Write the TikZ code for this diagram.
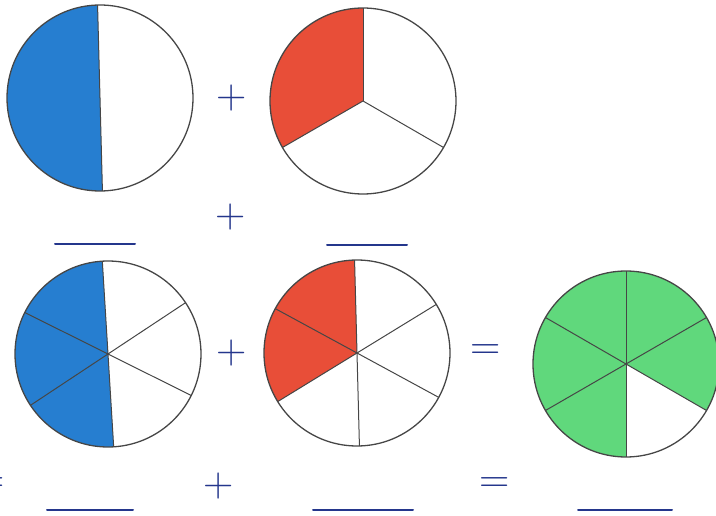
\documentclass[tikz,border=0pt]{standalone}
\definecolor{cblue}{RGB}{38,126,208}
\definecolor{cred}{RGB}{232,78,56}
\definecolor{cgreen}{RGB}{96,216,124}
\definecolor{ink}{RGB}{36,54,140}
\definecolor{pencil}{RGB}{70,70,70}
\begin{document}
\begin{tikzpicture}[x=1pt,y=1pt,
  rim/.style={draw=pencil,line width=1.3pt},
  spoke/.style={draw=pencil,line width=1pt},
  sign/.style={text=ink,font=\fontsize{42}{42}\selectfont,inner sep=0pt},
  blank/.style={draw=ink,line width=2pt,line cap=round}]
\useasboundingbox (0,0) rectangle (716,515);
\clip (0,0) rectangle (716,515);
% circle 1: halves
\coordinate (c1) at (100,417);
\fill[cblue] (c1) -- ++(91.5:93) arc[start angle=91.5,end angle=271.5,radius=93] -- cycle;
\draw[rim] (c1) circle[radius=93];
\foreach \a in {91.5,271.5} \draw[spoke] (c1) -- ++(\a:93);
% circle 2: thirds
\coordinate (c2) at (363,414);
\fill[cred] (c2) -- ++(90:93) arc[start angle=90,end angle=210,radius=93] -- cycle;
\draw[rim] (c2) circle[radius=93];
\foreach \a in {90,210,330} \draw[spoke] (c2) -- ++(\a:93);
% circle 3: sixths
\coordinate (c3) at (108,161);
\fill[cblue] (c3) -- ++(93.5:93) arc[start angle=93.5,end angle=273.5,radius=93] -- cycle;
\draw[rim] (c3) circle[radius=93];
\foreach \a in {33.5,93.5,153.5,213.5,273.5,333.5} \draw[spoke] (c3) -- ++(\a:93);
% circle 4: sixths
\coordinate (c4) at (357,162);
\fill[cred] (c4) -- ++(91.5:93) arc[start angle=91.5,end angle=211.5,radius=93] -- cycle;
\draw[rim] (c4) circle[radius=93];
\foreach \a in {31.5,91.5,151.5,211.5,271.5,331.5} \draw[spoke] (c4) -- ++(\a:93);
% circle 5: sixths, five green
\coordinate (c5) at (626,151);
\fill[cgreen] (c5) -- ++(-30:93) arc[start angle=-30,end angle=270,radius=93] -- cycle;
\draw[rim] (c5) circle[radius=93];
\foreach \a in {30,90,150,210,270,330} \draw[spoke] (c5) -- ++(\a:93);
% signs
\node[sign] (p1) at (232,417) {+};
\node[sign] (p2) at (231,298) {+};
\node[sign] (p3) at (232,162) {+};
\node[sign] (p4) at (219,29) {+};
\node[sign] (e1) at (486,163) {=};
\node[sign] (e2) at (495,30) {=};
\node[sign] (e0) at (-10,30) {=};
% answer blanks
\coordinate (b1a) at (55,271); \coordinate (b1b) at (135,271);
\coordinate (b2a) at (327,270); \coordinate (b2b) at (407,270);
\coordinate (b3a) at (47,5); \coordinate (b3b) at (133,5);
\coordinate (b4a) at (313,5); \coordinate (b4b) at (413,5);
\coordinate (b5a) at (578,5); \coordinate (b5b) at (672,5);
\draw[blank] (b1a) -- (b1b);
\draw[blank] (b2a) -- (b2b);
\draw[blank] (b3a) -- (b3b);
\draw[blank] (b4a) -- (b4b);
\draw[blank] (b5a) -- (b5b);
\end{tikzpicture}
\end{document}
